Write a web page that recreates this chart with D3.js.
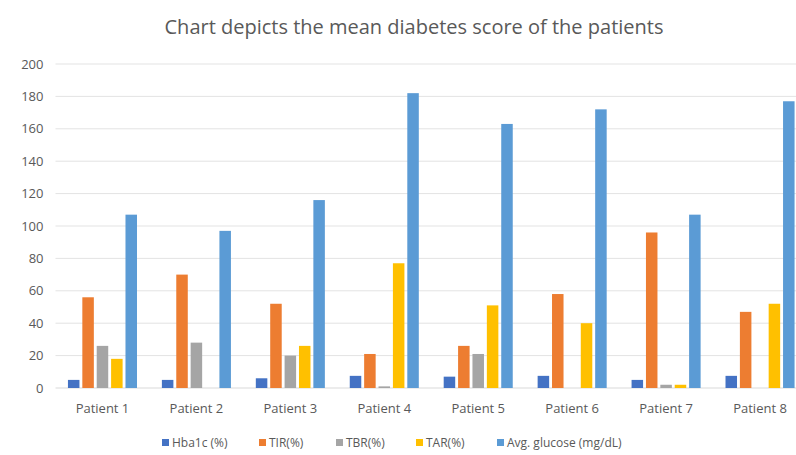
<!DOCTYPE html>
<html>
<head>
<meta charset="utf-8">
<script src="https://cdnjs.cloudflare.com/ajax/libs/d3/7.8.5/d3.min.js"></script>
<style>
  body { margin: 0; background: #fff; overflow: hidden; }
  text { font-family: "Open Sans", "Noto Sans", sans-serif; fill: #595959; }
</style>
</head>
<body>
<svg id="chart" width="796" height="455"></svg>
<script>
// data
const patients = ['Patient 1', 'Patient 2', 'Patient 3', 'Patient 4', 'Patient 5', 'Patient 6', 'Patient 7', 'Patient 8'];
const seriesNames = ['Hba1c (%)', 'TIR(%)', 'TBR(%)', 'TAR(%)', 'Avg. glucose (mg/dL)'];
const hba1c = [5, 5, 6, 7.5, 7, 7.5, 5, 7.5];
const tir = [56, 70, 52, 21, 26, 58, 96, 47];
const tbr = [26, 28, 20, 1, 21, 0, 2, 0];
const tar = [18, 0, 26, 77, 51, 40, 2, 52];
const avgGlucose = [107, 97, 116, 182, 163, 172, 107, 177];
const yTicks = [0, 20, 40, 60, 80, 100, 120, 140, 160, 180, 200];

const seriesValues = [hba1c, tir, tbr, tar, avgGlucose];
const colours = ['#4472C4', '#ED7D31', '#A5A5A5', '#FFC000', '#5B9BD5'];

const svg = d3.select('#chart');
// the plot area runs past the right edge of the picture (cropped in the reference)
const dim = {left: 55.5, right: 807, top: 64, bottom: 388};

const x0 = d3.scaleBand().domain(patients).range([dim.left, dim.right]).paddingInner(0.265).paddingOuter(0.1325);
const x1 = d3.scaleBand().domain(seriesNames).range([0, x0.bandwidth()]).paddingInner(0.2);
const y = d3.scaleLinear().domain([0, 200]).range([dim.bottom, dim.top]);
const colour = d3.scaleOrdinal(seriesNames, colours);

// title
svg.append('text')
  .attr('x', 414).attr('y', 34)
  .attr('text-anchor', 'middle')
  .style('font-size', '20px')
  .text('Chart depicts the mean diabetes score of the patients');

// gridlines
svg.append('g').selectAll('line')
  .data(yTicks.slice(1))
  .enter().append('line')
    .attr('x1', dim.left).attr('x2', dim.right)
    .attr('y1', d => y(d)).attr('y2', d => y(d))
    .attr('stroke', '#e3e3e3').attr('stroke-width', 1);

// y axis labels
const yAxis = d3.axisLeft(y).tickValues(yTicks).tickSize(0).tickPadding(12);
svg.append('g')
  .attr('transform', `translate(${dim.left}, 0)`)
  .call(yAxis)
  .call(g => g.select('.domain').remove())
  .call(g => g.selectAll('text').style('font-size', '13px').attr('fill', '#595959').style('font-family', '"Open Sans", sans-serif'));

// baseline
svg.append('line')
  .attr('x1', dim.left).attr('x2', dim.right)
  .attr('y1', y(0)).attr('y2', y(0))
  .attr('stroke', '#d9d9d9');

// bars
const groups = svg.append('g').selectAll('g')
  .data(patients)
  .enter().append('g')
    .attr('transform', d => `translate(${x0(d)}, 0)`);

groups.selectAll('rect')
  .data((p, i) => seriesNames.map((s, j) => ({name: s, value: seriesValues[j][i]})))
  .enter().append('rect')
    .attr('x', d => x1(d.name))
    .attr('width', x1.bandwidth())
    .attr('y', d => y(d.value))
    .attr('height', d => y(0) - y(d.value))
    .attr('fill', d => colour(d.name));

// x axis labels
const xAxis = d3.axisBottom(x0).tickSize(0).tickPadding(16);
svg.append('g')
  .attr('transform', `translate(0, ${y(0)})`)
  .call(xAxis)
  .call(g => g.select('.domain').remove())
  .call(g => g.selectAll('text').style('font-size', '13px').attr('fill', '#595959').style('font-family', '"Open Sans", sans-serif'));

// legend
const legendX = [162, 259, 336, 416, 497];
const legend = svg.append('g');
const items = legend.selectAll('g')
  .data(seriesNames)
  .enter().append('g')
    .attr('transform', (d, i) => `translate(${legendX[i]}, 443)`);
items.append('rect')
  .attr('x', 0).attr('y', -4)
  .attr('width', 7).attr('height', 7)
  .attr('fill', d => colour(d));
items.append('text')
  .attr('x', 10).attr('y', 4)
  .style('font-size', '12px')
  .text(d => d);
</script>
</body>
</html>
